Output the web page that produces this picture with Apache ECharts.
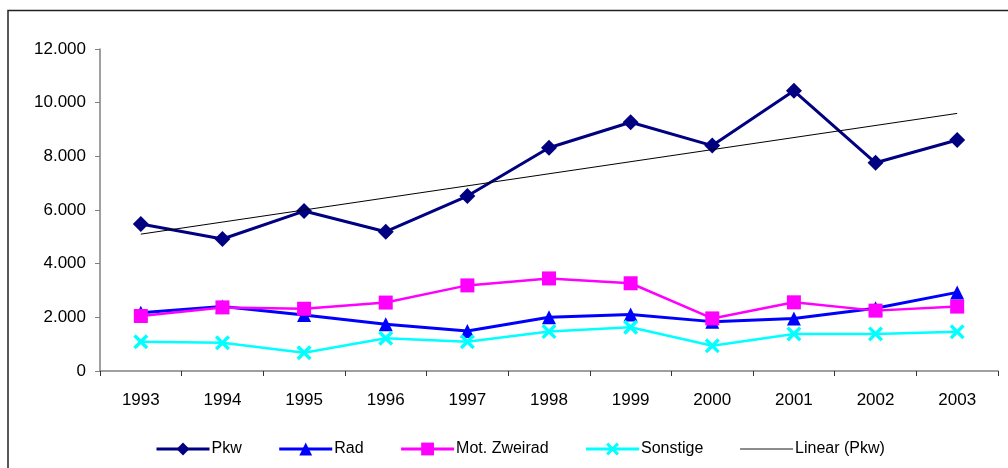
<!DOCTYPE html>
<html>
<head>
<meta charset="utf-8">
<script src="https://cdn.jsdelivr.net/npm/echarts@6/dist/echarts.min.js"></script>
<style>html,body{margin:0;padding:0;background:#fff}#c{width:1008px;height:468px}</style>
</head>
<body>
<div id="c"></div>
<script>
const categories = ['1993','1994','1995','1996','1997','1998','1999','2000','2001','2002','2003'];
const pkw = [5480, 4920, 5960, 5190, 6520, 8320, 9270, 8400, 10440, 7760, 8610];
const rad = [2170, 2400, 2090, 1740, 1490, 2000, 2110, 1840, 1960, 2340, 2930];
const motZweirad = [2050, 2370, 2320, 2550, 3190, 3450, 3270, 1960, 2560, 2250, 2400];
const sonstige = [1090, 1050, 680, 1220, 1090, 1470, 1630, 940, 1380, 1380, 1460];
// Linear trend (Pkw) endpoints
const trendPkw = [5100, null, null, null, null, null, null, null, null, null, 9600];
const yTicks = [0, 2000, 4000, 6000, 8000, 10000, 12000];

const FONT = 'Liberation Sans, Arial, Helvetica, sans-serif';
const xSymbol = 'path://M0,1.6 L1.6,0 L5,3.4 L8.4,0 L10,1.6 L6.6,5 L10,8.4 L8.4,10 L5,6.6 L1.6,10 L0,8.4 L3.4,5 Z';
const axisGrey = '#808080';

const chart = echarts.init(document.getElementById('c'), null, {renderer: 'canvas'});
chart.setOption({
  animation: false,
  backgroundColor: '#fff',
  textStyle: {fontFamily: FONT},
  graphic: [{
    type: 'rect', z: -10, silent: true,
    shape: {x: 8, y: 10.5, width: 1100, height: 600},
    style: {fill: 'none', stroke: '#222', lineWidth: 1.5}
  }],
  grid: {left: 100, right: 10, top: 49, bottom: 97, containLabel: false},
  legend: {
    left: 150, top: 436,
    itemWidth: 53, itemHeight: 16, itemGap: 36,
    textStyle: {fontFamily: FONT, fontSize: 16, color: '#000', padding: [0, 0, 0, -3]},
    data: [
      {name: 'Pkw', lineStyle: {width: 3}},
      {name: 'Rad', lineStyle: {width: 3}},
      {name: 'Mot. Zweirad', lineStyle: {width: 3}},
      {name: 'Sonstige', lineStyle: {width: 3}},
      {name: 'Linear (Pkw)', itemStyle: {opacity: 0}, lineStyle: {width: 1.5, color: '#666'}}
    ]
  },
  xAxis: {
    type: 'category',
    data: categories,
    boundaryGap: true,
    axisLine: {lineStyle: {color: axisGrey, width: 1.5}},
    axisTick: {show: true, alignWithLabel: false, length: 5, lineStyle: {color: '#333'}},
    axisLabel: {fontFamily: FONT, fontSize: 17, color: '#000', margin: 21}
  },
  yAxis: {
    type: 'value',
    min: yTicks[0], max: yTicks[yTicks.length - 1], interval: 2000,
    axisLine: {show: true, lineStyle: {color: axisGrey, width: 1.5}},
    axisTick: {show: true, length: 5, lineStyle: {color: axisGrey}},
    splitLine: {show: false},
    axisLabel: {
      fontFamily: FONT, fontSize: 17, color: '#000', margin: 14,
      formatter: v => v === 0 ? '0' : String(v).replace(/\B(?=(\d{3})+(?!\d))/g, '.')
    }
  },
  series: [
    {name: 'Pkw', type: 'line', data: pkw, symbol: 'diamond', symbolSize: 16,
     lineStyle: {color: '#000080', width: 3}, itemStyle: {color: '#000080'}, z: 2},
    {name: 'Rad', type: 'line', data: rad, symbol: 'triangle', symbolSize: 14,
     lineStyle: {color: '#0000FF', width: 3}, itemStyle: {color: '#0000FF'}, z: 3},
    {name: 'Mot. Zweirad', type: 'line', data: motZweirad, symbol: 'rect', symbolSize: 14,
     lineStyle: {color: '#FF00FF', width: 2.5}, itemStyle: {color: '#FF00FF'}, z: 4},
    {name: 'Sonstige', type: 'line', data: sonstige, symbol: xSymbol, symbolSize: 15,
     lineStyle: {color: '#00FFFF', width: 2.5}, itemStyle: {color: '#00FFFF'}, z: 5},
    {name: 'Linear (Pkw)', type: 'line', data: trendPkw, connectNulls: true, symbol: 'none',
     lineStyle: {color: '#000', width: 1}, itemStyle: {color: '#000'}, z: 6}
  ]
});
</script>
</body>
</html>
